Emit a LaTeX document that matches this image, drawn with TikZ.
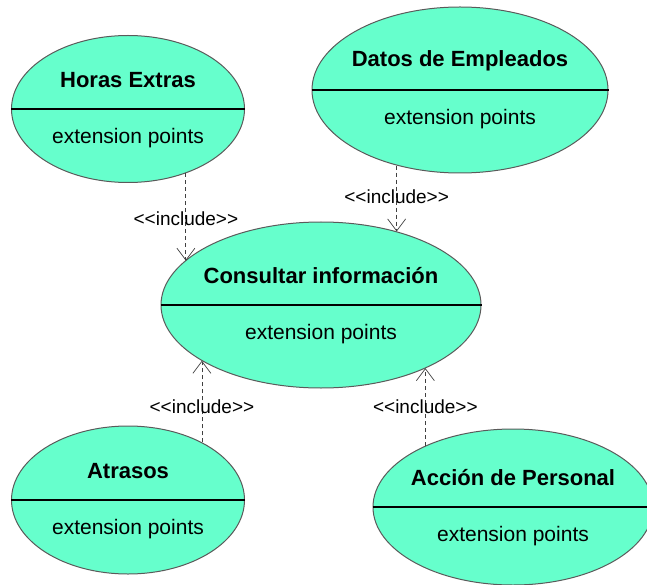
\documentclass[tikz,border=0pt]{standalone}
\usepackage{fontspec}
\setmainfont{Liberation Sans}
\usetikzlibrary{shapes.geometric,arrows.meta}
\definecolor{casefill}{HTML}{66FFCC}
\definecolor{caseline}{HTML}{5A5A5A}

\begin{document}
\begin{tikzpicture}[
            x=1pt, y=-1pt,
            usecase/.style={
            ellipse,
            draw=caseline,
            fill=casefill,
            line width=1pt,
            inner sep=0pt
            },
            casetitle/.style={font=\fontsize{22}{26}\selectfont\bfseries},
            extpoints/.style={font=\fontsize{21}{25}\selectfont},
            divider/.style={line width=1.3pt},
            incl/.style={
            dash pattern=on 4pt off 3pt,
            draw=black!75,
            line width=0.8pt,
            -{Straight Barb[length=12pt,width=18pt,line width=0.7pt]}
            },
            stereo/.style={font=\fontsize{19}{23}\selectfont,inner sep=0pt}
            ]
            \useasboundingbox (0,0) rectangle (647,585);
            \clip (0,0) rectangle (647,585);
            \foreach \Name/\X/\Y/\W/\H/\Title in {
              hx/128/109/233/147/Horas Extras,
              de/460/90/296/166/Datos de Empleados,
              ci/321/305/320/166/Consultar información,
              at/128/500/233/148/Atrasos,
              ap/513/507/280/156/Acción de Personal}
            {
            \node[usecase,minimum width=\W pt,minimum height=\H pt] (\Name) at (\X,\Y) {};
            \draw[divider] (\Name.west) -- (\Name.east);
            \node[casetitle] (\Name-title) at ([yshift=29pt]\Name.center) {\Title};
            \node[extpoints] (\Name-ext) at ([yshift=-29pt]\Name.center) {extension points};
            }
            \draw[incl] (hx.-48) -- (hx.-48 |- ci.162)
              node[stereo,pos=0.52] (inc1) {<{}<include>{}>};
            \draw[incl] (de.-130) -- (de.-130 |- ci.44)
              node[stereo,pos=0.48] (inc2) {<{}<include>{}>};
            \draw[incl] (at.38) -- (at.38 |- ci.205)
              node[stereo,pos=0.43] (inc3) {<{}<include>{}>};
            \draw[incl] (ap.145) -- (ap.145 |- ci.-31)
              node[stereo,pos=0.5] (inc4) {<{}<include>{}>};
        \end{tikzpicture}
\end{document}
